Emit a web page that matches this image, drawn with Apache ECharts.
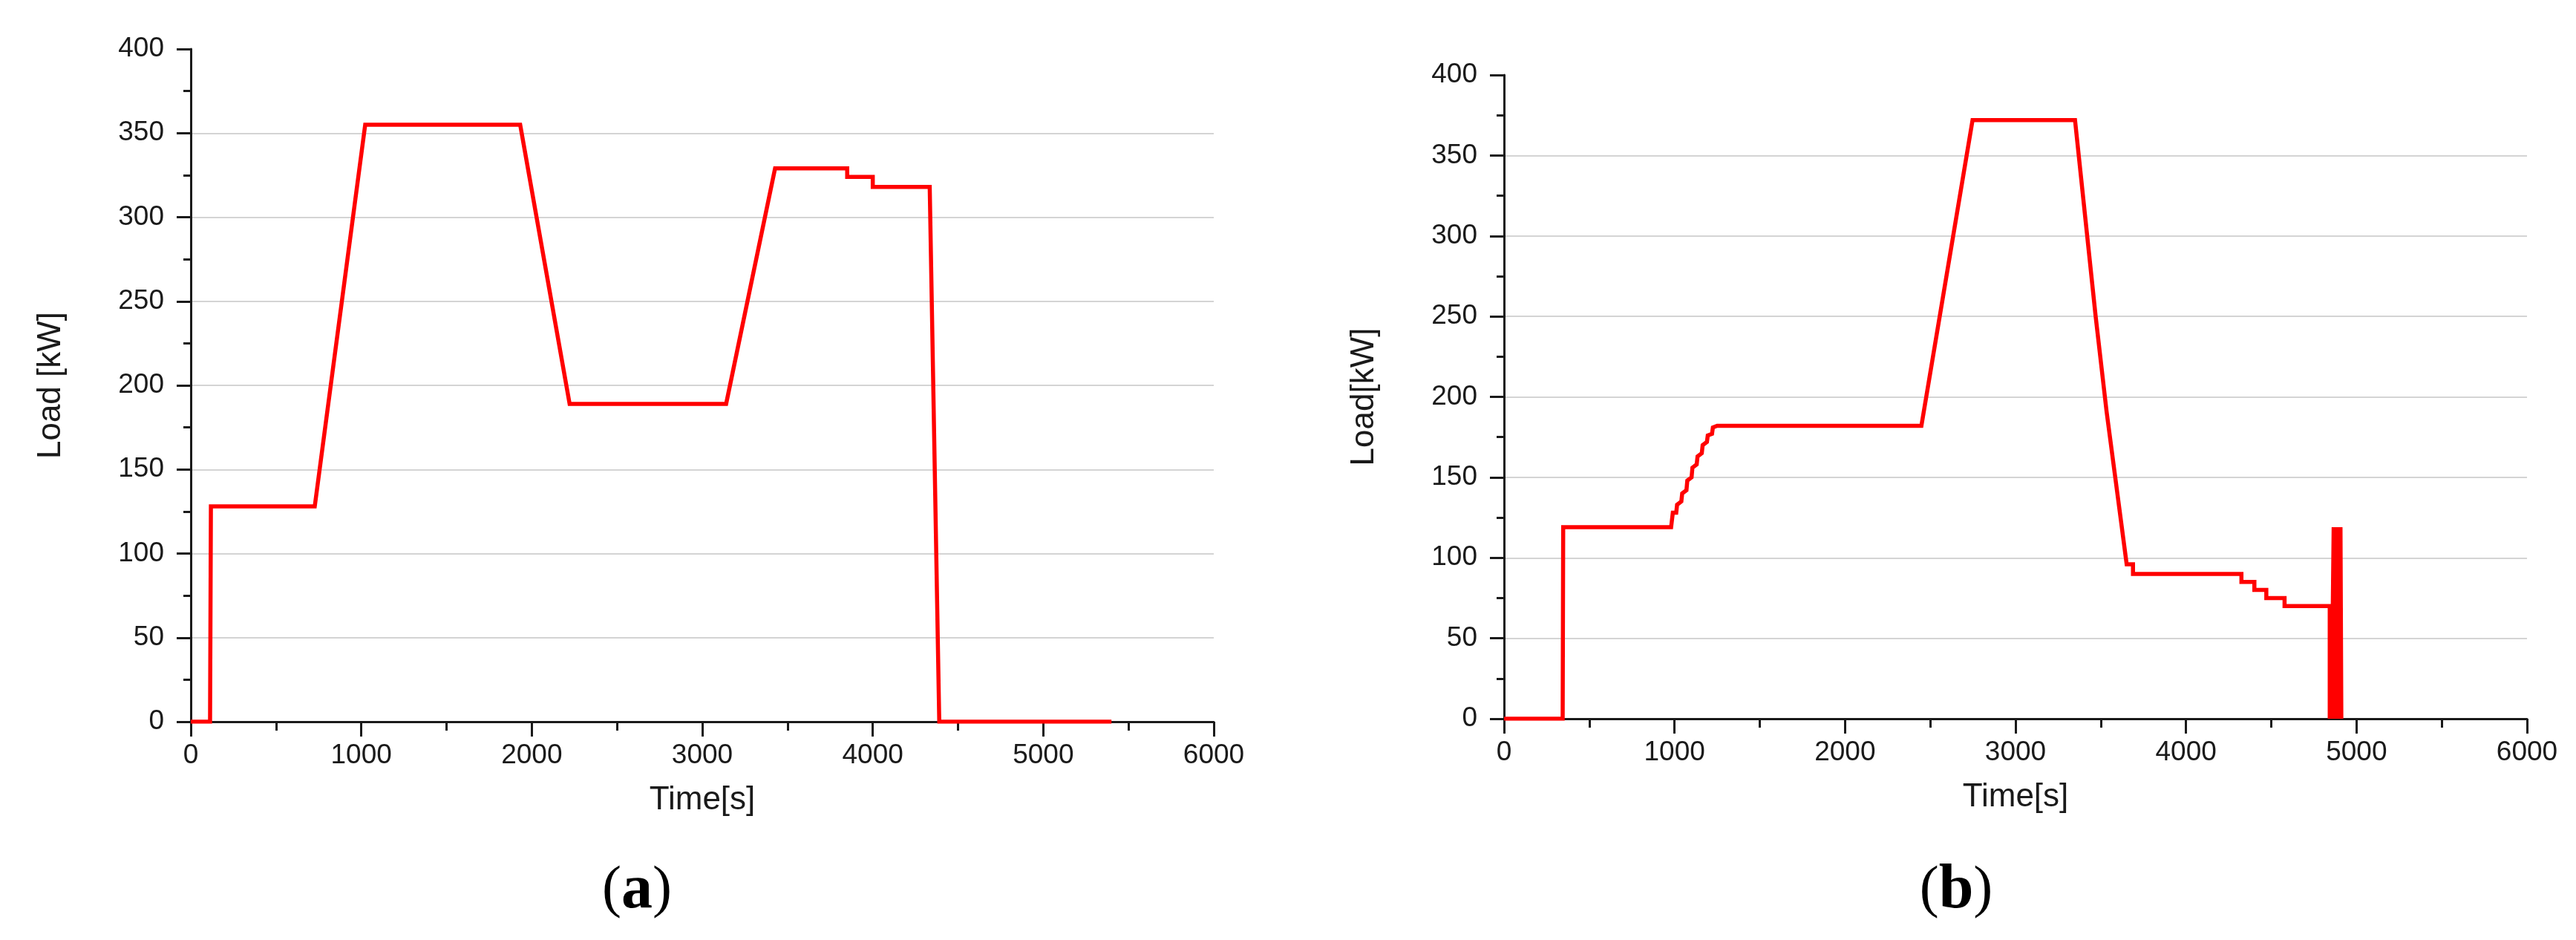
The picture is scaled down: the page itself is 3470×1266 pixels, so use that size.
<!DOCTYPE html>
<html>
<head>
<meta charset="utf-8">
<script src="https://cdn.jsdelivr.net/npm/echarts@6/dist/echarts.min.js"></script>
<style>
  html, body { margin: 0; padding: 0; background: #ffffff; }
  #load-chart { width: 3470px; height: 1266px; }
</style>
</head>
<body>
<div id="load-chart"></div>
<script>
// (a) load profile
const time_a = [0, 113, 118, 727, 1023, 1932, 2222, 3140, 3427, 3850, 3850, 4000, 4000, 4334, 4390, 5400];
const load_a = [0, 0, 128, 128, 355, 355, 189, 189, 329, 329, 324, 324, 318, 318, 0, 0];

// (b) load profile
const time_b = [
  0, 344, 347, 980, 990, 1010, 1015, 1040, 1045, 1070, 1075, 1100, 1105, 1130,
  1135, 1160, 1165, 1190, 1195, 1220, 1225, 1250, 2448, 2748, 3349, 3470, 3534,
  3652, 3689, 3689, 4325, 4325, 4401, 4401, 4471, 4471, 4578, 4578, 4843, 4843,
  4849, 4855, 4861, 4866, 4870, 4874, 4878, 4882, 4886, 4890, 4894, 4898, 4902,
  4906, 4911, 4911
];
const load_b = [
  0, 0, 119, 119, 128, 128, 133, 135, 140, 142, 148, 150, 156, 158,
  163, 165, 170, 172, 176, 177, 181, 182, 182, 372, 372, 250, 191,
  96, 96, 90, 90, 85, 85, 80, 80, 75, 75, 70, 70, 0,
  70, 0, 70, 119, 0, 119, 0, 119, 0, 119, 0, 119, 0,
  119, 119, 0
];

const x_ticks = [0, 6000, 1000];  // min, max, interval
const y_ticks = [0, 400, 50];

const pairs = (xs, ys) => xs.map((x, i) => [x, ys[i]]);

const chart_box = document.getElementById("load-chart");
const chart = echarts.init(chart_box, null, { renderer: "canvas" });

const ink = "#1a1a1a";
const sans = "'Liberation Sans', Arial, sans-serif";
const serif = "'Liberation Serif', 'Times New Roman', serif";

function xAxisFor(gridIndex) {
  return {
    gridIndex: gridIndex,
    type: "value",
    min: x_ticks[0],
    max: x_ticks[1],
    interval: x_ticks[2],
    name: "Time[s]",
    nameLocation: "middle",
    nameGap: 84,
    nameTextStyle: { color: ink, fontSize: 44, fontFamily: sans },
    axisLine: { show: true, lineStyle: { color: ink, width: 3 } },
    axisTick: { show: true, length: 20, lineStyle: { color: ink, width: 3 } },
    minorTick: { show: true, splitNumber: 2, length: 12, lineStyle: { color: ink, width: 3 } },
    axisLabel: { color: ink, fontSize: 37, fontFamily: sans, margin: 27, formatter: (v) => String(v) },
    splitLine: { show: false },
  };
}

function yAxisFor(gridIndex, title) {
  return {
    gridIndex: gridIndex,
    type: "value",
    min: y_ticks[0],
    max: y_ticks[1],
    interval: y_ticks[2],
    name: title,
    nameLocation: "middle",
    nameGap: 166,
    nameTextStyle: { color: ink, fontSize: 44, fontFamily: sans },
    axisLine: { show: true, lineStyle: { color: ink, width: 3 } },
    axisTick: { show: true, length: 19, lineStyle: { color: ink, width: 3 } },
    minorTick: { show: true, splitNumber: 2, length: 10, lineStyle: { color: ink, width: 3 } },
    axisLabel: { color: ink, fontSize: 37, fontFamily: sans, margin: 36, formatter: (v) => String(v) },
    splitLine: { show: true, showMinLine: false, showMaxLine: false, lineStyle: { color: "#d4d4d4", width: 2 } },
  };
}

function panelLabel(letter, centerX) {
  return {
    text: "{p|(}{b|" + letter + "}{p|)}",
    left: centerX,
    top: 1153,
    textAlign: "center",
    textStyle: {
      fontWeight: "normal",
      rich: {
        p: { fontFamily: serif, fontSize: 78, fontWeight: "normal", color: "#000" },
        b: { fontFamily: serif, fontSize: 84, fontWeight: "bold", color: "#000" },
      },
    },
  };
}

function loadSeries(index, data) {
  return {
    type: "line",
    xAxisIndex: index,
    yAxisIndex: index,
    data: data,
    showSymbol: false,
    symbol: "none",
    lineStyle: { color: "#ff0000", width: 5.5, join: "miter" },
    itemStyle: { color: "#ff0000" },
  };
}

chart.setOption({
  backgroundColor: "#ffffff",
  animation: false,
  title: [panelLabel("a", 853), panelLabel("b", 2630)],
  grid: [
    { left: 257, top: 66, width: 1378, height: 906 },
    { left: 2026, top: 101, width: 1378, height: 867 },
  ],
  xAxis: [xAxisFor(0), xAxisFor(1)],
  yAxis: [yAxisFor(0, "Load [kW]"), yAxisFor(1, "Load[kW]")],
  series: [
    loadSeries(0, pairs(time_a, load_a)),
    loadSeries(1, pairs(time_b, load_b)),
  ],
});

window.addEventListener("resize", () => chart.resize());
</script>
</body>
</html>
